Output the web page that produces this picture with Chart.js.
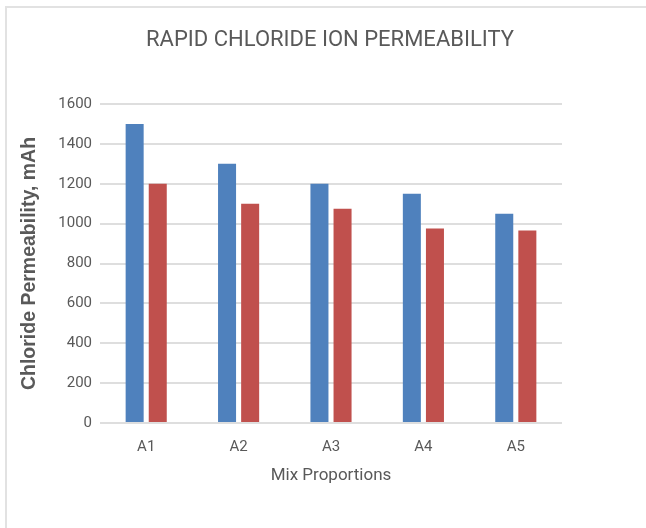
<!DOCTYPE html>
<html>
<head>
<meta charset="utf-8">
<script src="https://cdn.jsdelivr.net/npm/chart.js@4.4.0/dist/chart.umd.min.js"></script>
<style>
  html, body { margin: 0; padding: 0; background: #fff; }
  #frame {
    position: absolute; left: 5px; top: 6px; width: 641px; height: 522px;
    border-top: 2px solid #e2e2e2; border-left: 2px solid #e2e2e2;
  }
  #wrap { position: absolute; left: 0; top: 0; width: 646px; height: 528px; }
</style>
</head>
<body>
<div id="frame"></div>
<div id="wrap"><canvas id="myChart" width="646" height="528"></canvas></div>
<script>
// chart data
var mixLabels = ['A1', 'A2', 'A3', 'A4', 'A5'];
var seriesOne = [1500, 1300, 1200, 1150, 1050];
var seriesTwo = [1200, 1100, 1075, 975, 965];
var yTicks = [0, 200, 400, 600, 800, 1000, 1200, 1400, 1600];

var ctx = document.getElementById('myChart').getContext('2d');

var myChart = new Chart(ctx, {
    type: 'bar',
    data: {
        labels: mixLabels,
        datasets: [{
            label: 'Series 1',
            data: seriesOne,
            backgroundColor: '#4f81bd',
            categoryPercentage: 0.5,
            barPercentage: 0.78
        }, {
            label: 'Series 2',
            data: seriesTwo,
            backgroundColor: '#c0504d',
            categoryPercentage: 0.5,
            barPercentage: 0.78
        }]
    },
    options: {
        responsive: false,
        animation: false,
        layout: { padding: { left: 14, right: 0, top: 0, bottom: 0 } },
        plugins: {
            legend: { display: false },
            tooltip: { enabled: false },
            title: {
                display: true,
                text: 'RAPID CHLORIDE ION PERMEABILITY',
                color: '#595959',
                font: { family: 'Roboto', size: 22, weight: 'normal' },
                padding: { top: 27, bottom: 50.6 }
            }
        },
        scales: {
            x: {
                grid: { display: false },
                border: { display: false },
                ticks: {
                    color: '#595959',
                    font: { family: 'Roboto', size: 15 },
                    padding: 7
                },
                title: {
                    display: true,
                    text: 'Mix Proportions',
                    color: '#595959',
                    font: { family: 'Roboto', size: 17 },
                    padding: { top: 0, bottom: 42 }
                },
                afterFit: function (scale) { scale.height = 105; }
            },
            y: {
                min: 0,
                max: 1600,
                afterBuildTicks: function (scale) {
                    scale.ticks = yTicks.map(function (v) { return { value: v }; });
                },
                grid: { color: '#dedede', lineWidth: 2, drawTicks: false },
                border: { display: false },
                ticks: {
                    color: '#595959',
                    font: { family: 'Roboto', size: 15 },
                    padding: 8,
                    callback: function (value) { return String(value); }
                },
                title: {
                    display: true,
                    text: 'Chloride Permeability, mAh',
                    color: '#595959',
                    font: { family: 'Liberation Sans', size: 19.5, weight: 'bold' },
                    padding: { top: 4, bottom: 0 }
                },
                afterFit: function (scale) { scale.width = 86; }
            },
            // empty right-hand axis that only reserves the blank space
            yRight: {
                position: 'right',
                display: true,
                grid: { display: false },
                border: { display: false },
                ticks: { display: false },
                afterFit: function (scale) { scale.width = 84; }
            }
        }
    }
});
</script>
</body>
</html>
